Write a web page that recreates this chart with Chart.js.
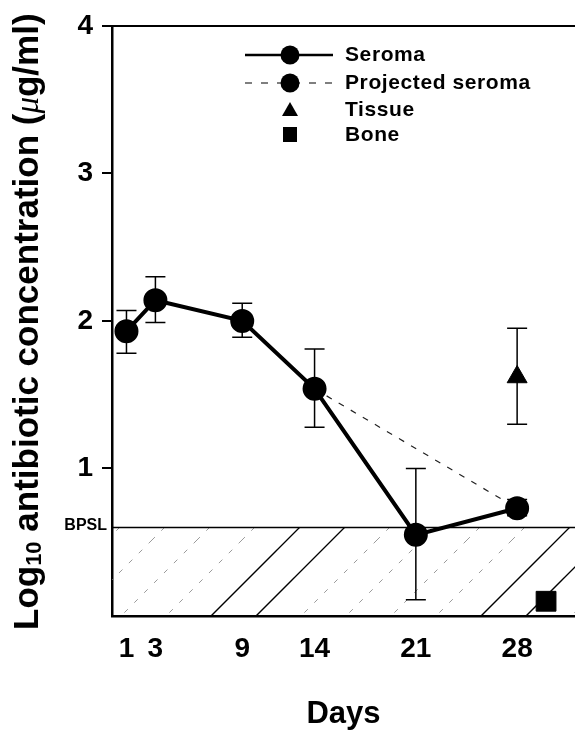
<!DOCTYPE html>
<html>
<head>
<meta charset="utf-8">
<script src="https://cdn.jsdelivr.net/npm/chart.js@4.4.1/dist/chart.umd.min.js"></script>
<style>
  html, body { margin: 0; padding: 0; background: #fff; }
  #wrap { width: 575px; height: 730px; }
</style>
</head>
<body>
<div id="wrap"><canvas id="chart" width="575" height="730"></canvas></div>
<script>
// ── Data ─────────────────────────────────────────────────────────────────────
const DAYS       = [1, 3, 9, 14, 21, 28];
const SEROMA     = [1.93, 2.14, 2.00, 1.54, 0.55, 0.73];
const SEROMA_HI  = [2.07, 2.30, 2.12, 1.81, 1.00, 0.79];
const SEROMA_LO  = [1.78, 1.99, 1.89, 1.28, 0.11, 0.68];

const PROJ_DAYS  = [14, 28];
const PROJ_VALS  = [1.54, 0.73];

const TISSUE_DAYS = [28];
const TISSUE      = [1.62];
const TISSUE_HI   = [1.95];
const TISSUE_LO   = [1.30];

const BONE_DAYS = [30];
const BONE      = [0.10];

const BPSL = 0.6;
const X_RANGE = [0, 32];
const X_TICKS = [1, 3, 9, 14, 21, 28];
const Y_TICKS = [1, 2, 3, 4];

const LEGEND_LABELS = ['Seroma', 'Projected seroma', 'Tissue', 'Bone'];

// ── Fonts ────────────────────────────────────────────────────────────────────
const SANS   = '"Liberation Sans", Arial, sans-serif';
const NARROW = '"Liberation Sans Narrow", "Liberation Sans", Arial, sans-serif';

const toXY = (xs, ys) => xs.map((x, i) => ({ x, y: ys[i] }));

// ── Hatch pattern for the area below BPSL ────────────────────────────────────
function makeHatch() {
  const P = 270;
  const tile = document.createElement('canvas');
  tile.width = P; tile.height = P;
  const c = tile.getContext('2d');
  const line = (s) => {
    [s - P, s, s + P].forEach(k => {
      c.beginPath();
      c.moveTo(k + 20, -20);
      c.lineTo(-20, k + 20);
      c.stroke();
    });
  };
  c.strokeStyle = '#9a9a9a';
  c.lineWidth = 1;
  c.setLineDash([5, 9]);
  [107, 152, 197, 242].forEach(line);
  c.setLineDash([]);
  c.strokeStyle = '#000';
  c.lineWidth = 1.3;
  [17, 62].forEach(line);
  return c.createPattern(tile, 'repeat');
}

// ── Error bars ───────────────────────────────────────────────────────────────
const errorBars = {
  id: 'errorBars',
  afterDatasetsDraw(chart) {
    const { ctx, scales: { x, y } } = chart;
    const groups = [
      [DAYS, SEROMA_LO, SEROMA_HI],
      [TISSUE_DAYS, TISSUE_LO, TISSUE_HI]
    ];
    ctx.save();
    ctx.strokeStyle = '#000';
    ctx.lineWidth = 1.5;
    groups.forEach(([xs, lo, hi]) => {
      xs.forEach((d, i) => {
        const px = x.getPixelForValue(d);
        const y1 = y.getPixelForValue(lo[i]);
        const y2 = y.getPixelForValue(hi[i]);
        ctx.beginPath();
        ctx.moveTo(px, y1); ctx.lineTo(px, y2);
        ctx.moveTo(px - 10, y1); ctx.lineTo(px + 10, y1);
        ctx.moveTo(px - 10, y2); ctx.lineTo(px + 10, y2);
        ctx.stroke();
      });
    });
    ctx.restore();
  }
};

// ── Legend, BPSL label, y title ──────────────────────────────────────────────
const decorations = {
  id: 'decorations',
  afterDraw(chart) {
    const { ctx, scales: { y } } = chart;
    ctx.save();
    ctx.fillStyle = '#000';
    ctx.strokeStyle = '#000';

    // BPSL label
    ctx.font = `bold 16px ${SANS}`;
    ctx.textAlign = 'right';
    ctx.textBaseline = 'middle';
    ctx.fillText('BPSL', 107, y.getPixelForValue(BPSL) - 2);

    // legend
    const mx = 290, rows = [55, 83, 110, 135];
    ctx.lineWidth = 2.5;
    ctx.beginPath(); ctx.moveTo(245, rows[0]); ctx.lineTo(333, rows[0]); ctx.stroke();
    ctx.lineWidth = 1.2;
    ctx.setLineDash([7, 9]);
    ctx.beginPath(); ctx.moveTo(245, rows[1]); ctx.lineTo(335, rows[1]); ctx.stroke();
    ctx.setLineDash([]);
    [rows[0], rows[1]].forEach(ry => {
      ctx.beginPath(); ctx.arc(mx, ry, 9.5, 0, Math.PI * 2); ctx.fill();
    });
    ctx.beginPath();
    ctx.moveTo(mx, rows[2] - 8); ctx.lineTo(mx + 8, rows[2] + 6); ctx.lineTo(mx - 8, rows[2] + 6);
    ctx.closePath(); ctx.fill();
    ctx.fillRect(mx - 7, rows[3] - 8, 14, 15);

    ctx.font = `bold 21px ${SANS}`;
    ctx.letterSpacing = '0.6px';
    ctx.textAlign = 'left';
    ctx.textBaseline = 'middle';
    LEGEND_LABELS.forEach((t, i) => ctx.fillText(t, 345, rows[i]));
    ctx.letterSpacing = '0px';

    // y axis title, rotated, with subscript 10 and italic mu
    ctx.translate(38, 630);
    ctx.rotate(-Math.PI / 2);
    ctx.textAlign = 'left';
    ctx.textBaseline = 'alphabetic';
    const parts = [
      ['Log', `bold 35px ${SANS}`, 0],
      ['10', `bold 22px ${SANS}`, 3],
      [' antibiotic concentration (', `bold 35px ${SANS}`, 0],
      ['\u03bc', `italic 33px "Liberation Serif", serif`, 0],
      ['g/ml)', `bold 35px ${SANS}`, 0]
    ];
    let cx = 0;
    parts.forEach(([t, f, dy]) => {
      ctx.font = f;
      ctx.fillText(t, cx, dy);
      cx += ctx.measureText(t).width;
    });
    ctx.restore();
  }
};

// keep the plot box fixed: no overhang padding from tick labels
const noPad = s => { s.paddingLeft = 0; s.paddingRight = 0; };

// ── Chart ────────────────────────────────────────────────────────────────────
new Chart(document.getElementById('chart'), {
  type: 'line',
  data: {
    datasets: [
      {
        label: 'Seroma',
        data: toXY(DAYS, SEROMA),
        borderColor: '#000',
        backgroundColor: '#000',
        borderWidth: 4,
        pointRadius: 10,
        pointHoverRadius: 10,
        tension: 0,
        order: 0
      },
      {
        label: 'Projected seroma',
        data: toXY(PROJ_DAYS, PROJ_VALS),
        borderColor: '#222',
        borderWidth: 1.2,
        borderDash: [6, 8],
        pointRadius: 0,
        order: 1
      },
      {
        label: 'Tissue',
        data: toXY(TISSUE_DAYS, TISSUE),
        showLine: false,
        pointStyle: 'triangle',
        pointRadius: 11.5,
        backgroundColor: '#000',
        borderColor: '#000',
        order: 2
      },
      {
        label: 'Bone',
        data: toXY(BONE_DAYS, BONE),
        showLine: false,
        pointStyle: 'rect',
        pointRadius: 14,
        backgroundColor: '#000',
        borderColor: '#000',
        order: 3
      },
      {
        label: 'BPSL',
        data: toXY(X_RANGE, [BPSL, BPSL]),
        borderColor: '#000',
        borderWidth: 1.5,
        pointRadius: 0,
        fill: 'start',
        backgroundColor: makeHatch(),
        order: 10
      }
    ]
  },
  options: {
    responsive: false,
    animation: false,
    events: [],
    layout: { padding: 0, autoPadding: false },
    plugins: {
      legend: { display: false },
      tooltip: { enabled: false }
    },
    scales: {
      x: {
        type: 'linear',
        position: 'bottom',
        min: X_RANGE[0],
        max: X_RANGE[1],
        afterBuildTicks: s => { s.ticks = X_TICKS.map(v => ({ value: v })); },
        afterFit: s => { s.height = 114; noPad(s); },
        grid: { display: false, drawTicks: false },
        border: { display: true, color: '#000', width: 2.5 },
        ticks: {
          color: '#000',
          font: { family: NARROW, size: 28, weight: 'bold' },
          padding: 16,
          maxRotation: 0,
          callback: v => String(v)
        },
        title: {
          display: true,
          text: 'Days',
          color: '#000',
          font: { family: SANS, size: 31, weight: 'bold', lineHeight: 1 },
          padding: { top: 0, bottom: 0 }
        }
      },
      xTop: {
        type: 'linear',
        position: 'top',
        min: X_RANGE[0],
        max: X_RANGE[1],
        afterFit: s => { s.height = 24; noPad(s); },
        grid: { display: false, drawTicks: false },
        border: { display: true, color: '#000', width: 2 },
        ticks: { display: false }
      },
      y: {
        type: 'linear',
        min: 0,
        max: 4,
        afterBuildTicks: s => { s.ticks = Y_TICKS.map(v => ({ value: v })); },
        afterFit: s => { s.width = 112; },
        grid: {
          display: true,
          drawOnChartArea: false,
          drawTicks: true,
          tickLength: 10,
          color: '#000',
          lineWidth: 2
        },
        border: { display: true, color: '#000', width: 2.5 },
        ticks: {
          color: '#000',
          font: { family: SANS, size: 28, weight: 'bold' },
          padding: 9,
          callback: v => String(v)
        }
      }
    }
  },
  plugins: [errorBars, decorations]
});
</script>
</body>
</html>
